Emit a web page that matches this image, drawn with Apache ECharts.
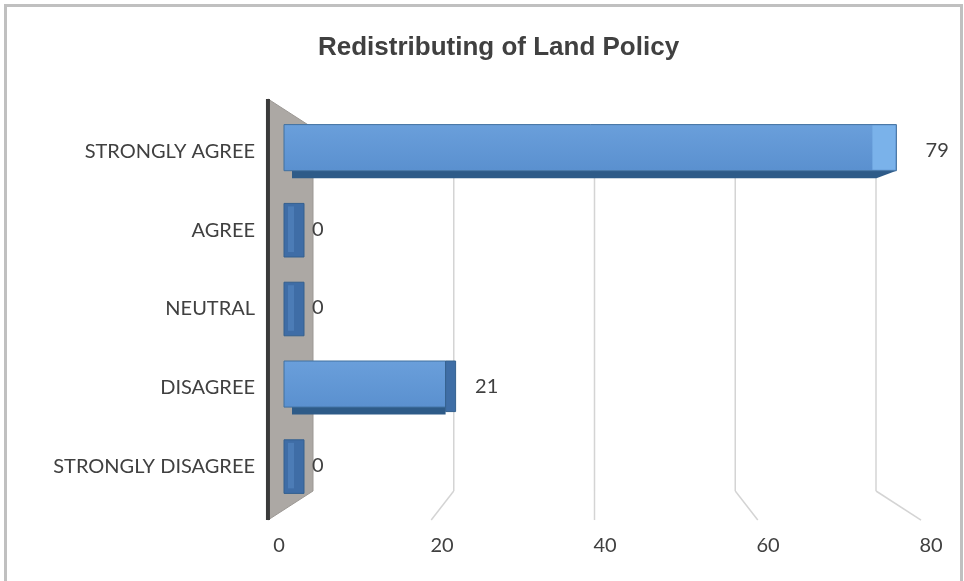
<!DOCTYPE html>
<html><head><meta charset="utf-8">
<script src="https://cdn.jsdelivr.net/npm/echarts@6/dist/echarts.min.js"></script>
<style>html,body{margin:0;padding:0;background:#fff}#c{width:964px;height:581px}</style>
</head><body><div id="c"></div>
<script>
// ---- data ----
const titleText = 'Redistributing of Land Policy';
const categories = ['STRONGLY AGREE', 'AGREE', 'NEUTRAL', 'DISAGREE', 'STRONGLY DISAGREE'];
const values = [79, 0, 0, 21, 0];
const tickValues = [0, 20, 40, 60, 80];
const axisMin = 0, axisMax = 80, axisStep = 20;

// ---- styling / perspective constants ----
const PERSP = 1.16;          // front plane scale relative to back plane
const TEXT = '#404040';
const FONT = 'Lato';

const chart = echarts.init(document.getElementById('c'), null, {renderer: 'canvas'});

function renderFrame(params, api) {
  const v = api.value(0);
  const top = api.coord([v, 1]);
  const bot = api.coord([v, 0]);
  const mid = (axisMin + axisMax) / 2;
  const c = api.coord([mid, 0.5]);
  const front = p => [c[0] + (p[0] - c[0]) * PERSP, c[1] + (p[1] - c[1]) * PERSP];
  const ft = front(top), fb = front(bot);
  if (v === axisMin) {
    return {type: 'group', children: [
      {type: 'polygon', shape: {points: [ft, top, bot, fb]},
        style: {fill: '#aca8a4', stroke: '#9c9894', lineWidth: 1}},
      {type: 'line', shape: {x1: ft[0], y1: ft[1], x2: fb[0], y2: fb[1]},
        style: {stroke: '#3a3a3a', lineWidth: 4}}
    ]};
  }
  return {type: 'group', children: [
    {type: 'line', shape: {x1: top[0], y1: top[1], x2: bot[0], y2: bot[1]},
      style: {stroke: '#d4d4d4', lineWidth: 1.5}},
    {type: 'line', shape: {x1: bot[0], y1: bot[1], x2: fb[0], y2: fb[1]},
      style: {stroke: '#d4d4d4', lineWidth: 1.5}}
  ]};
}

function renderBar(params, api) {
  const v = api.value(0), idx = api.value(1);
  const p0 = api.coord([axisMin, idx]);
  const pv = api.coord([v, idx]);
  const pc = api.coord([(axisMin + axisMax) / 2, idx]);
  const band = api.size([0, 1])[1];
  const h = band * 0.68;
  const top = p0[1] - h / 2;
  const faceBot = top + h * 0.86;
  const bot = top + h;
  const x0 = p0[0] - 2;
  const xv = pv[0];
  const children = [];
  if (xv > pc[0]) {
    const xe = xv + 10;
    children.push({type: 'polygon', shape: {points: [[x0 + 8, faceBot], [xe, faceBot], [xe - 20, bot], [x0 + 8, bot]]},
      style: {fill: '#2e5b88'}});
    children.push({type: 'rect', shape: {x: x0, y: top, width: xe - x0, height: faceBot - top},
      style: {fill: new echarts.graphic.LinearGradient(0, 0, 0, 1, [
        {offset: 0, color: '#6a9fdb'}, {offset: 1, color: '#5a90cf'}]), stroke: '#41709f', lineWidth: 1}});
    children.push({type: 'rect', shape: {x: xe - 24, y: top + 1, width: 23, height: faceBot - top - 2},
      style: {fill: '#7ab2ea'}});
  } else {
    const cap = v === 0 ? 18 : 10;
    const xe = xv + cap;
    if (xv - x0 > 3) {
      children.push({type: 'polygon', shape: {points: [[x0 + 8, faceBot], [xv, faceBot], [xv, bot], [x0 + 8, bot]]},
        style: {fill: '#2e5b88'}});
      children.push({type: 'rect', shape: {x: x0, y: top, width: xv - x0, height: faceBot - top},
        style: {fill: new echarts.graphic.LinearGradient(0, 0, 0, 1, [
          {offset: 0, color: '#6a9fdb'}, {offset: 1, color: '#5a90cf'}]), stroke: '#41709f', lineWidth: 1}});
      children.push({type: 'rect', shape: {x: xv, y: top, width: cap, height: bot - top - 3},
        style: {fill: '#3f6ea6', stroke: '#35628f', lineWidth: 1}});
    } else {
      children.push({type: 'rect', shape: {x: x0, y: top, width: xe - x0, height: h},
        style: {fill: '#3f6da6', stroke: '#34608f', lineWidth: 1}});
      children.push({type: 'rect', shape: {x: x0 + 4, y: top + 3, width: 6, height: h - 8},
        style: {fill: '#4c7cb6'}});
    }
  }
  const lx = xv + 26 + (xv - p0[0]) * 0.022;
  children.push({type: 'text', style: {x: lx, y: p0[1] - 1, text: String(v), fill: TEXT,
    font: '20px ' + FONT, textAlign: 'left', textVerticalAlign: 'middle'}});
  return {type: 'group', children: children};
}

const option = {
  backgroundColor: '#ffffff',
  animation: false,
  title: {text: titleText, left: 318, top: 35, padding: 0,
    textStyle: {fontFamily: 'Liberation Sans', fontWeight: 'bold', fontSize: 26, color: TEXT}},
  graphic: [{type: 'rect', shape: {x: 5.5, y: 5.5, width: 956, height: 800},
    style: {fill: 'none', stroke: '#c0c0c0', lineWidth: 3}, silent: true}],
  grid: [
    {left: 286, right: 70, top: 112, bottom: 75},
    {left: 313, right: 88, top: 128, bottom: 90},
    {left: 279, right: 33, top: 112, bottom: 61}
  ],
  xAxis: [
    {gridIndex: 0, type: 'value', min: axisMin, max: axisMax, interval: axisStep, show: false},
    {gridIndex: 1, type: 'value', min: axisMin, max: axisMax, interval: axisStep, show: false},
    {gridIndex: 2, type: 'value', min: axisMin, max: axisMax, interval: axisStep,
      axisLine: {show: false}, axisTick: {show: false}, splitLine: {show: false},
      axisLabel: {margin: 16, color: TEXT, fontFamily: FONT, fontSize: 20,
        customValues: tickValues}}
  ],
  yAxis: [
    {gridIndex: 0, type: 'category', data: categories, inverse: true,
      axisLine: {show: false}, axisTick: {show: false}, splitLine: {show: false},
      axisLabel: {margin: 31, color: TEXT, fontFamily: FONT, fontSize: 20}},
    {gridIndex: 1, type: 'value', min: 0, max: 1, show: false},
    {gridIndex: 2, type: 'value', min: 0, max: 1, show: false}
  ],
  series: [
    {type: 'custom', name: 'frame', xAxisIndex: 1, yAxisIndex: 1, z: 1, silent: true,
      renderItem: renderFrame, data: tickValues.map(t => [t]), encode: {x: 0}},
    {type: 'custom', name: 'Responses', xAxisIndex: 0, yAxisIndex: 0, z: 3,
      renderItem: renderBar, data: values.map((v, i) => [v, i]), encode: {x: 0, y: 1}}
  ]
};
chart.setOption(option);
</script>
</body></html>
